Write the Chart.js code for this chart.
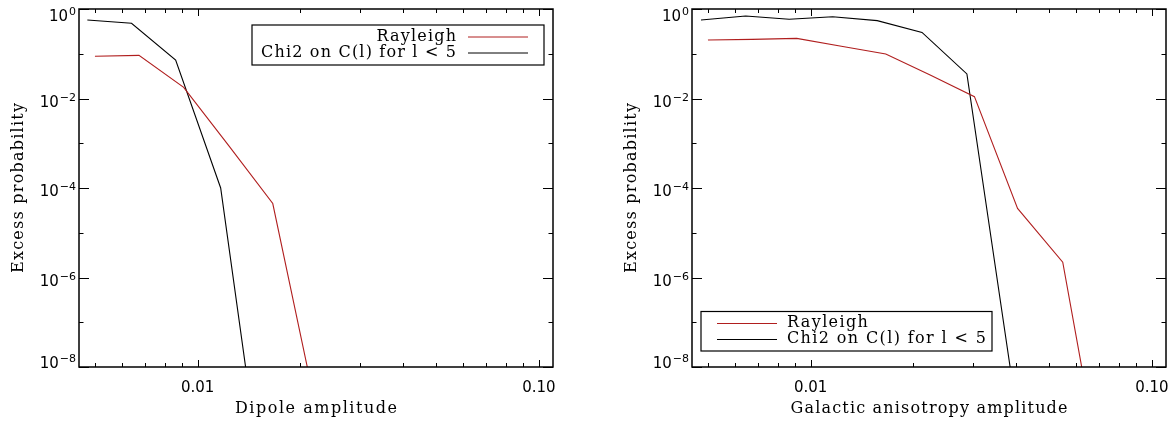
<!DOCTYPE html>
<html>
<head>
<meta charset="utf-8">
<script src="https://cdn.jsdelivr.net/npm/chart.js@4.4.0/dist/chart.umd.min.js"></script>
<style>
  body { margin: 0; background: #fff; }
  #wrap { position: relative; width: 1176px; height: 421px; background: #fff; }
  canvas { position: absolute; top: 0; }
</style>
</head>
<body>
<div id="wrap">
  <canvas id="dipoleVis" width="588" height="421" style="left:0px"></canvas>
  <canvas id="galVis" width="588" height="421" style="left:588px"></canvas>
</div>
<script>
// series labels / colours shared by both panels
const seriesLabels = ['Rayleigh', 'Chi2 on C(l) for l < 5']
const seriesColors = ['#b01e1e', '#000000']

// left panel: dipole amplitude
const dipoleRayX = [0.005, 0.00673, 0.0091, 0.0123, 0.0166, 0.0224]
const dipoleRayY = [0.088, 0.092, 0.0178, 9.1e-4, 4.5e-5, 9e-10]
const dipoleChi2X = [0.00475, 0.0064, 0.00862, 0.01168, 0.0158]
const dipoleChi2Y = [0.57, 0.48, 0.072, 1.0e-4, 6.5e-12]

// right panel: galactic anisotropy amplitude
const galRayX = [0.005, 0.00673, 0.0091, 0.0123, 0.0166, 0.0224, 0.0302, 0.0404, 0.0548, 0.074]
const galRayY = [0.203, 0.21, 0.221, 0.147, 0.0986, 0.0335, 0.011, 3.5e-5, 2.2e-6, 7e-12]
const galChi2X = [0.00477, 0.00645, 0.00865, 0.0116, 0.01567, 0.0212, 0.0287, 0.0388]
const galChi2Y = [0.57, 0.70, 0.59, 0.67, 0.55, 0.30, 0.0354, 6e-9]

// axis ticks
const xTickValues = [0.01, 0.1]
const xTickLabels = ['0.01', '0.10']
const yTickExps = [0, -2, -4, -6, -8]

function toPoints(xs, ys) {
  let pts = []
  for (let j = 0; j < xs.length; j++) pts.push({ x: xs[j], y: ys[j] })
  return pts
}

// draw text stretched to a given width with letter spacing
function spacedText(ctx, text, x, y, width) {
  ctx.letterSpacing = '0px'
  let m = ctx.measureText(text).width
  let ls = (width - m) / (text.length - 1)
  ctx.letterSpacing = ls + 'px'
  ctx.textAlign = 'left'
  ctx.fillText(text, x, y)
  ctx.letterSpacing = '0px'
}

const idlFrame = {
  id: 'idlFrame',
  afterDatasetsDraw(chart, args, opts) {
    const ctx = chart.ctx
    const a = chart.chartArea
    const xs = chart.scales.x
    const ys = chart.scales.y
    ctx.save()
    ctx.strokeStyle = '#000'
    ctx.fillStyle = '#000'
    ctx.lineWidth = 1
    ctx.beginPath()
    // x ticks, bottom and top
    for (let d = -3; d <= -1; d++) {
      for (let m = 1; m <= 9; m++) {
        let v = m * Math.pow(10, d)
        if (v < xs.min || v > xs.max) continue
        let px = Math.round(xs.getPixelForValue(v)) + 0.5
        let len = m == 1 ? 7 : 4
        ctx.moveTo(px, a.bottom); ctx.lineTo(px, a.bottom - len)
        ctx.moveTo(px, a.top); ctx.lineTo(px, a.top + len)
      }
    }
    // y ticks, left and right
    for (let e = 0; e >= -8; e--) {
      let py = Math.round(ys.getPixelForValue(Math.pow(10, e))) + 0.5
      let len = e % 2 == 0 ? 10 : 4.5
      ctx.moveTo(a.left, py); ctx.lineTo(a.left + len, py)
      ctx.moveTo(a.right, py); ctx.lineTo(a.right - len, py)
    }
    ctx.stroke()
    ctx.lineWidth = 1.5
    ctx.strokeRect(a.left, a.top, a.right - a.left, a.bottom - a.top)

    // x tick labels
    ctx.font = '15px "DejaVu Sans"'
    ctx.textAlign = 'center'
    ctx.textBaseline = 'alphabetic'
    xTickValues.forEach((v, i) => {
      ctx.fillText(xTickLabels[i], xs.getPixelForValue(v), a.bottom + 25)
    })
    // y tick labels 10^n
    yTickExps.forEach(e => {
      let py = ys.getPixelForValue(Math.pow(10, e))
      let base = Math.min(Math.max(py + 8, a.top + 12), a.bottom + 1)
      let sup = e < 0 ? '\u2212' + (-e) : '' + e
      ctx.textAlign = 'left'
      ctx.font = '11px "DejaVu Sans"'
      let wSup = ctx.measureText(sup).width
      ctx.font = '15px "DejaVu Sans"'
      let wBase = ctx.measureText('10').width
      let x0 = a.left - 3 - wSup - wBase - 1
      ctx.fillText('10', x0, base)
      ctx.font = '11px "DejaVu Sans"'
      ctx.fillText(sup, x0 + wBase + 1, base - 6)
    })

    // axis titles
    ctx.font = '16px "DejaVu Serif"'
    let cx = (a.left + a.right) / 2
    spacedText(ctx, opts.xTitle, cx - opts.xTitleWidth / 2, a.bottom + 46, opts.xTitleWidth)
    ctx.save()
    ctx.translate(a.left - 56, (a.top + a.bottom) / 2)
    ctx.rotate(-Math.PI / 2)
    spacedText(ctx, opts.yTitle, -opts.yTitleWidth / 2, 0, opts.yTitleWidth)
    ctx.restore()

    // legend box
    let lg = opts.legend
    ctx.lineWidth = 1.2
    ctx.strokeRect(lg.box[0], lg.box[1], lg.box[2] - lg.box[0], lg.box[3] - lg.box[1])
    ctx.font = '16px "DejaVu Serif"'
    ctx.letterSpacing = '0px'
    let longest = chart.data.datasets[1].label
    let ls = (lg.textWidth - ctx.measureText(longest).width) / (longest.length - 1)
    chart.data.datasets.forEach((ds, i) => {
      let ly = lg.rowY + 16 * i
      ctx.strokeStyle = ds.borderColor
      ctx.lineWidth = 1
      ctx.beginPath()
      ctx.moveTo(lg.line[0], ly + 0.5)
      ctx.lineTo(lg.line[1], ly + 0.5)
      ctx.stroke()
      ctx.letterSpacing = ls + 'px'
      let w = ctx.measureText(ds.label).width - ls
      let tx = lg.align == 'right' ? lg.textX - w : lg.textX
      ctx.textAlign = 'left'
      ctx.fillText(ds.label, tx, ly + 4)
      ctx.letterSpacing = '0px'
    })
    ctx.restore()
  }
}

function makePanel(id, rayX, rayY, chiX, chiY, pad, frameOpts) {
  return new Chart(document.getElementById(id), {
    type: 'line',
    data: {
      datasets: [{
        label: seriesLabels[0],
        data: toPoints(rayX, rayY),
        borderColor: seriesColors[0],
        borderWidth: 1.1,
        pointRadius: 0,
        tension: 0
      }, {
        label: seriesLabels[1],
        data: toPoints(chiX, chiY),
        borderColor: seriesColors[1],
        borderWidth: 1.1,
        pointRadius: 0,
        tension: 0
      }]
    },
    options: {
      responsive: false,
      animation: false,
      layout: { padding: pad },
      plugins: {
        legend: { display: false },
        tooltip: { enabled: false },
        idlFrame: frameOpts
      },
      scales: {
        x: { type: 'logarithmic', min: 0.00449, max: 0.11, display: false },
        y: { type: 'logarithmic', min: 1e-8, max: 1, display: false }
      }
    },
    plugins: [idlFrame]
  })
}

makePanel('dipoleVis', dipoleRayX, dipoleRayY, dipoleChi2X, dipoleChi2Y,
  { left: 79, right: 35, top: 9, bottom: 54 },
  {
    xTitle: 'Dipole amplitude', xTitleWidth: 162,
    yTitle: 'Excess probability', yTitleWidth: 170,
    legend: { box: [252, 25, 544, 65], align: 'right', textX: 456, line: [468, 528], rowY: 36.5, textWidth: 195 }
  })

makePanel('galVis', galRayX, galRayY, galChi2X, galChi2Y,
  { left: 104, right: 10, top: 9, bottom: 54 },
  {
    xTitle: 'Galactic anisotropy amplitude', xTitleWidth: 277,
    yTitle: 'Excess probability', yTitleWidth: 170,
    legend: { box: [113, 311.5, 404, 351], align: 'left', textX: 199, line: [129, 189], rowY: 323, textWidth: 199 }
  })
</script>
</body>
</html>
